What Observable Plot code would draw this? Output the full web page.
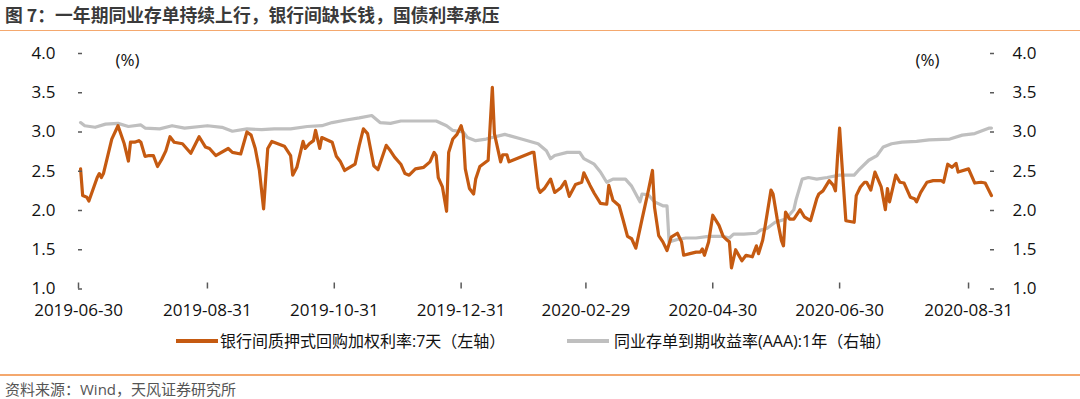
<!DOCTYPE html>
<html><head><meta charset="utf-8">
<script src="https://cdn.jsdelivr.net/npm/d3@7"></script>
<script src="https://cdn.jsdelivr.net/npm/@observablehq/plot@0.6"></script>
<style>
body{margin:0;width:1080px;height:399px;position:relative;background:#fff;overflow:hidden;font-family:"Open Sans","Noto Sans CJK SC",sans-serif}
#title{position:absolute;left:5px;top:3px;font-size:17.8px;line-height:22px;font-weight:bold;color:#3a3a3a;white-space:nowrap;font-family:"Noto Sans CJK SC",sans-serif}
.hr{position:absolute;left:0;width:1080px;height:1.5px;background:#f4a86e}
#chart{position:absolute;left:0;top:30px}
.leg{position:absolute;top:331px;height:20px;line-height:20px;font-size:16px;color:#111;white-space:nowrap}
.leg .sw{position:absolute;top:8px;height:4px}
.leg .tx{position:absolute;top:0}
#source{position:absolute;left:5px;top:381px;font-size:15px;line-height:17px;color:#555;white-space:nowrap}
</style></head>
<body>
<div id="title">图 7：一年期同业存单持续上行，银行间缺长钱，国债利率承压</div>
<div class="hr" style="top:29.5px"></div>
<div id="chart"></div>
<div class="leg" style="left:0;width:1080px">
  <span class="sw" style="left:176px;width:42px;background:#C55A11"></span><span class="tx" style="left:220px">银行间质押式回购加权利率:7天（左轴）</span>
  <span class="sw" style="left:567px;width:42px;background:#BFBFBF"></span><span class="tx" style="left:614px">同业存单到期收益率(AAA):1年（右轴）</span>
</div>
<div class="hr" style="top:374px"></div>
<div id="source">资料来源：Wind，天风证券研究所</div>
<script>
// 银行间质押式回购加权利率:7天（左轴）
const repoDates = [
"2019-07-01","2019-07-02","2019-07-04","2019-07-05","2019-07-09","2019-07-10","2019-07-11","2019-07-12","2019-07-16","2019-07-19",
"2019-07-22","2019-07-24","2019-07-25","2019-07-27","2019-07-29","2019-07-30","2019-08-01","2019-08-03","2019-08-05","2019-08-07",
"2019-08-09","2019-08-11","2019-08-13","2019-08-15","2019-08-19","2019-08-23","2019-08-27","2019-08-30","2019-09-01","2019-09-04",
"2019-09-10","2019-09-12","2019-09-16","2019-09-19","2019-09-21","2019-09-23","2019-09-25","2019-09-27","2019-09-29","2019-10-01",
"2019-10-07","2019-10-10","2019-10-11","2019-10-13","2019-10-16","2019-10-17","2019-10-19","2019-10-21","2019-10-22","2019-10-24",
"2019-10-25","2019-10-30","2019-11-01","2019-11-03","2019-11-05","2019-11-10","2019-11-12","2019-11-14","2019-11-16","2019-11-19",
"2019-11-21","2019-11-25","2019-11-27","2019-11-29","2019-12-02","2019-12-04","2019-12-06","2019-12-09","2019-12-13","2019-12-16",
"2019-12-18","2019-12-19","2019-12-20","2019-12-22","2019-12-24","2019-12-25","2019-12-27","2019-12-29","2019-12-31","2020-01-01",
"2020-01-02","2020-01-04","2020-01-06","2020-01-07","2020-01-09","2020-01-13","2020-01-15","2020-01-16","2020-01-19","2020-01-20",
"2020-01-22","2020-01-23","2020-02-03","2020-02-04","2020-02-06","2020-02-07","2020-02-09","2020-02-12","2020-02-14","2020-02-17",
"2020-02-19","2020-02-21","2020-02-24","2020-02-27","2020-02-28","2020-03-02","2020-03-04","2020-03-07","2020-03-10","2020-03-11",
"2020-03-13","2020-03-16","2020-03-18","2020-03-20","2020-03-22","2020-03-24","2020-03-27","2020-03-30","2020-04-01","2020-04-02",
"2020-04-04","2020-04-06","2020-04-08","2020-04-10","2020-04-13","2020-04-15","2020-04-16","2020-04-19","2020-04-22","2020-04-24",
"2020-04-25","2020-04-26","2020-04-28","2020-04-30","2020-05-03","2020-05-05","2020-05-07","2020-05-08","2020-05-09","2020-05-11",
"2020-05-14","2020-05-16","2020-05-19","2020-05-21","2020-05-22","2020-05-24","2020-05-25","2020-05-28","2020-05-29","2020-05-31",
"2020-06-02","2020-06-03","2020-06-04","2020-06-06","2020-06-08","2020-06-11","2020-06-13","2020-06-16","2020-06-19","2020-06-20",
"2020-06-22","2020-06-25","2020-06-27","2020-06-28","2020-06-29","2020-06-30","2020-07-01","2020-07-03","2020-07-07","2020-07-08",
"2020-07-10","2020-07-12","2020-07-13","2020-07-15","2020-07-17","2020-07-20","2020-07-22","2020-07-23","2020-07-24","2020-07-27",
"2020-07-29","2020-07-31","2020-08-03","2020-08-05","2020-08-06","2020-08-08","2020-08-11","2020-08-14","2020-08-18","2020-08-19",
"2020-08-21","2020-08-23","2020-08-25","2020-08-26","2020-08-31","2020-09-03","2020-09-06","2020-09-08","2020-09-11"
];
const repoValues = [
2.53,2.19,2.17,2.12,2.42,2.47,2.42,2.47,2.91,3.08,
2.85,2.63,2.87,2.87,2.89,2.87,2.69,2.70,2.70,2.56,
2.65,2.76,2.94,2.87,2.85,2.73,2.94,2.81,2.79,2.70,
2.79,2.74,2.72,3.00,2.96,2.79,2.51,2.02,2.79,2.88,
2.82,2.70,2.45,2.55,2.88,2.79,2.85,2.89,3.02,2.79,
2.93,2.87,2.69,2.62,2.51,2.59,2.83,3.04,2.98,2.57,
2.52,2.83,2.76,2.68,2.59,2.47,2.45,2.53,2.55,2.62,
2.74,2.70,2.42,2.30,1.99,2.74,2.91,2.97,3.08,2.98,
2.53,2.28,2.21,2.40,2.56,2.64,3.57,2.98,2.62,2.71,
2.71,2.62,2.74,2.74,2.29,2.23,2.28,2.40,2.23,2.29,
2.37,2.18,2.33,2.36,2.48,2.32,2.22,2.09,2.08,2.32,
2.13,2.06,1.87,1.67,1.64,1.52,1.89,2.25,2.51,2.04,
1.68,1.60,1.49,1.66,1.71,1.60,1.43,1.45,1.47,1.47,
1.51,1.43,1.60,1.94,1.81,1.67,1.62,1.60,1.27,1.50,
1.36,1.43,1.41,1.55,1.45,1.62,1.77,2.26,2.21,1.89,
1.62,1.55,1.98,1.89,1.89,2.01,1.92,1.87,2.15,2.21,
2.25,2.38,2.32,2.25,2.68,3.05,2.64,1.87,1.85,2.19,
2.30,2.36,2.36,2.26,2.49,2.30,2.01,2.28,2.11,2.45,
2.36,2.35,2.17,2.15,2.11,2.23,2.36,2.38,2.38,2.36,
2.59,2.55,2.60,2.49,2.53,2.35,2.36,2.35,2.19
];
// 同业存单到期收益率(AAA):1年（右轴）
const ncdDates = [
"2019-07-01","2019-07-03","2019-07-08","2019-07-13","2019-07-19","2019-07-24","2019-07-30","2019-08-01","2019-08-08","2019-08-14",
"2019-08-20","2019-08-31","2019-09-07","2019-09-12","2019-09-19","2019-09-26","2019-10-02","2019-10-10","2019-10-18","2019-10-25",
"2019-10-30","2019-11-05","2019-11-12","2019-11-18","2019-11-22","2019-11-27","2019-12-02","2019-12-11","2019-12-19","2019-12-24",
"2019-12-27","2020-01-01","2020-01-03","2020-01-07","2020-01-12","2020-01-21","2020-01-29","2020-02-06","2020-02-10","2020-02-12",
"2020-02-14","2020-02-20","2020-02-26","2020-02-28","2020-03-04","2020-03-07","2020-03-10","2020-03-13","2020-03-19","2020-03-22",
"2020-03-26","2020-03-27","2020-03-30","2020-04-02","2020-04-06","2020-04-08","2020-04-09","2020-04-13","2020-04-17","2020-04-22",
"2020-04-28","2020-05-05","2020-05-08","2020-05-10","2020-05-15","2020-05-21","2020-05-23","2020-05-26","2020-05-30","2020-06-04",
"2020-06-08","2020-06-09","2020-06-12","2020-06-15","2020-06-19","2020-06-24","2020-06-30","2020-07-07","2020-07-09","2020-07-14",
"2020-07-18","2020-07-21","2020-07-25","2020-07-30","2020-08-06","2020-08-12","2020-08-22","2020-08-28","2020-09-03","2020-09-10",
"2020-09-11"
];
const ncdValues = [
3.12,3.08,3.06,3.10,3.11,3.07,3.09,3.05,3.04,3.08,
3.05,3.08,3.06,3.01,3.04,3.03,3.04,3.04,3.07,3.08,
3.12,3.15,3.18,3.21,3.12,3.11,3.14,3.14,3.14,3.08,
3.02,3.00,2.93,2.89,2.91,2.97,2.91,2.85,2.76,2.66,
2.70,2.74,2.74,2.66,2.59,2.49,2.36,2.40,2.40,2.31,
2.11,2.21,2.20,2.11,2.06,2.06,1.60,1.63,1.65,1.65,
1.67,1.67,1.65,1.70,1.70,1.71,1.75,1.77,1.85,1.89,
2.01,2.13,2.40,2.42,2.40,2.42,2.45,2.45,2.51,2.64,
2.70,2.81,2.85,2.87,2.88,2.90,2.91,2.96,2.98,3.05,
3.05
];
const xTickLabels = ["2019-06-30","2019-08-31","2019-10-31","2019-12-31","2020-02-29","2020-04-30","2020-06-30","2020-08-31"];
const yTicks = [1.0,1.5,2.0,2.5,3.0,3.5,4.0];
const xDomain = ["2019-06-30","2020-09-12"];
const unitLabel = "(%)";

const parse = d3.utcParse("%Y-%m-%d");
const repo = repoDates.map((d,i)=>({date:parse(d), value:repoValues[i]}));
const ncd = ncdDates.map((d,i)=>({date:parse(d), value:ncdValues[i]}));
const axisColor = "#595959";
const fmtY = d3.format(".1f");

const chart = Plot.plot({
  width:1080, height:300,
  marginLeft:78, marginRight:87, marginTop:23, marginBottom:41.5,
  x:{type:"utc", domain:xDomain.map(parse)},
  y:{domain:[1,4]},
  style:{fontFamily:'"Open Sans","Noto Sans CJK SC",sans-serif', fontSize:"17px", color:"#111", background:"transparent", overflow:"visible"},
  marks:[
    Plot.line(ncd, {x:"date", y:"value", stroke:"#BFBFBF", strokeWidth:3.2, strokeLinejoin:"round"}),
    Plot.line(repo, {x:"date", y:"value", stroke:"#C55A11", strokeWidth:3.2, strokeLinejoin:"round"}),
    Plot.axisX({ticks:xTickLabels.map(parse), tickFormat:d3.utcFormat("%Y-%m-%d"), tickSize:-6, tickPadding:21, line:true, stroke:axisColor, fill:"#111", strokeWidth:1.5, label:null}),
    Plot.axisY({anchor:"left", ticks:yTicks, tickFormat:fmtY, tickSize:-4, tickPadding:27, line:true, stroke:axisColor, fill:"#111", strokeWidth:1.5, label:null}),
    Plot.axisY({anchor:"right", ticks:yTicks, tickFormat:fmtY, tickSize:-4, tickPadding:23, line:true, stroke:axisColor, fill:"#111", strokeWidth:1.5, label:null}),
    Plot.text([unitLabel], {text:d=>d, frameAnchor:"top-left", textAnchor:"start", dx:37, dy:0, fill:"#111", fontSize:17}),
    Plot.text([unitLabel], {text:d=>d, frameAnchor:"top-right", textAnchor:"end", dx:-54, dy:0, fill:"#111", fontSize:17})
  ]
});
document.getElementById("chart").appendChild(chart);
</script>
</body></html>
